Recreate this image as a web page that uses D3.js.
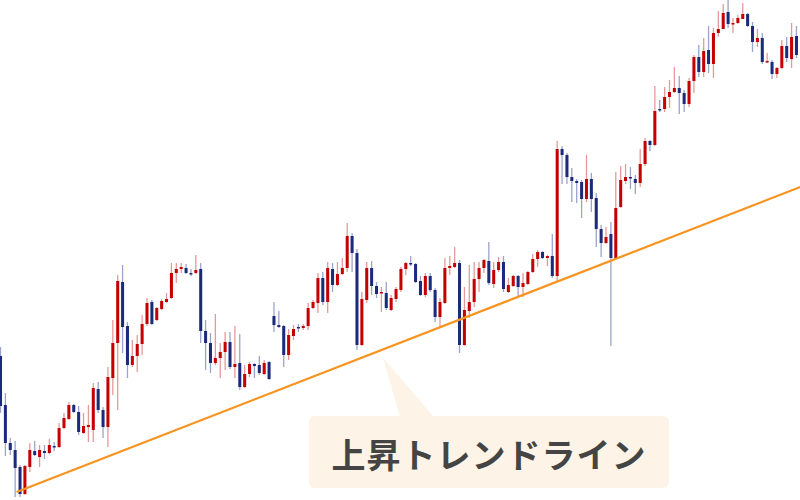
<!DOCTYPE html>
<html><head><meta charset="utf-8">
<script src="https://cdn.jsdelivr.net/npm/d3@7/dist/d3.min.js"></script>
<style>html,body{margin:0;padding:0;background:#fff;}svg{display:block;}</style>
</head><body>
<svg id="chart" width="800" height="500"></svg>
<script>
// OHLC prices (arbitrary units), one per session
const open = [144,95,57,50,33,6,33,49,43,49,47,54,53,72,81,95,88,67,73,70,111,90,73,122,157,218,174,135,144,156,176,198,180,191,198,202,227,231,232,227,227,231,169,157,137,142,148,158,133,137,113,126,136,135,126,138,184,175,174,145,164,173,172,174,192,197,222,198,231,215,226,232,264,247,155,200,232,214,207,207,190,201,210,231,237,236,219,205,224,210,183,197,232,233,237,155,189,198,221,232,239,216,230,238,208,214,224,213,216,228,241,248,242,244,224,351,345,323,319,318,301,321,302,271,257,266,242,293,319,323,321,317,336,359,355,391,391,403,408,412,407,396,419,443,428,450,436,467,471,488,476,477,481,486,474,458,462,438,438,426,432,454,441,464];
const high = [153,107,62,59,35,35,57,59,55,55,61,58,77,87,98,96,94,87,95,117,118,93,133,180,225,235,178,160,165,185,202,200,193,201,207,237,237,237,236,231,245,237,180,167,186,157,168,168,174,166,135,138,137,144,140,139,198,189,175,171,175,176,176,197,200,227,228,238,237,238,242,277,267,251,208,238,239,218,213,218,205,213,233,238,244,237,224,227,227,212,202,242,244,253,240,213,235,238,238,241,258,238,243,244,222,225,225,227,229,246,250,249,245,266,359,354,347,332,321,320,345,327,307,275,273,278,328,334,336,333,325,351,362,360,414,400,413,420,433,424,410,422,445,455,462,474,472,489,496,500,482,485,497,487,478,471,467,447,440,433,460,463,477,474];
const low = [87,44,45,3,3,5,28,44,33,41,46,49,52,71,80,87,65,66,58,58,87,62,53,105,90,147,122,133,128,145,174,175,179,190,197,201,217,227,226,224,226,157,130,127,135,122,130,131,122,110,112,123,122,125,125,120,168,172,133,140,160,168,170,170,191,187,195,187,208,214,225,228,228,150,154,197,205,202,188,190,189,198,208,225,234,217,204,203,208,178,172,196,225,232,147,154,182,193,208,227,215,212,228,208,207,213,203,203,215,227,233,241,234,222,218,316,316,298,297,282,298,288,253,243,256,154,241,292,316,311,306,313,334,349,354,388,388,392,407,386,388,393,407,423,423,427,422,463,471,472,467,476,481,473,448,453,436,437,421,422,431,438,432,442];
const close = [94,57,50,32,6,34,50,45,50,47,55,53,72,82,95,88,68,74,75,112,90,73,123,157,219,173,135,144,156,176,197,176,192,199,201,227,231,233,227,226,230,169,157,137,142,148,158,133,136,113,126,136,134,127,137,121,175,173,145,165,171,172,174,192,198,222,198,232,215,226,232,264,247,155,201,232,214,206,208,192,202,211,231,237,236,218,205,224,210,183,198,232,234,237,155,190,198,221,232,240,217,230,238,211,215,224,213,217,228,241,248,242,244,224,351,345,323,319,317,301,321,301,271,257,263,242,292,320,323,322,317,336,359,355,389,390,403,408,412,407,396,419,443,428,449,436,467,471,487,476,477,482,486,474,458,462,438,439,426,432,454,442,463,445];

// Trend line anchor points: [session index, price]
const trendIndex = [3.3, 163.8];
const trendPrice = [8, 313];

const labelText = "上昇トレンドライン";

const W = 800, H = 500;
const svg = d3.select("#chart");
svg.append("rect").attr("width", W).attr("height", H).attr("fill", "#fff");

const n = open.length;
const data = d3.range(n).map(i => ({i, o: open[i], h: high[i], l: low[i], c: close[i]}));

const x = d3.scaleBand().domain(d3.range(n)).range([-1.94, 798.9]).paddingInner(0.38).paddingOuter(0.19);
const xc = i => x(i) + x.bandwidth() / 2;
const xl = d3.scaleLinear().domain([0, n - 1]).range([xc(0), xc(n - 1)]);
const y = d3.scaleLinear().domain([0, 500]).range([500, 0]);

const RED = "#c40000", BLUE = "#1c2a7c";
const RED_W = "#e49a9a", BLUE_W = "#9ca3cc";

const g = svg.append("g");
const candles = g.selectAll("g.c").data(data).join("g").attr("class", "c");
candles.append("line")
  .attr("x1", d => xc(d.i)).attr("x2", d => xc(d.i))
  .attr("y1", d => y(d.h)).attr("y2", d => y(d.l))
  .attr("stroke", d => d.c >= d.o ? RED_W : BLUE_W)
  .attr("stroke-width", 1.3);
candles.append("rect")
  .attr("x", d => x(d.i)).attr("width", x.bandwidth())
  .attr("y", d => y(Math.max(d.o, d.c)))
  .attr("height", d => Math.max(1.5, Math.abs(y(d.o) - y(d.c))))
  .attr("fill", d => d.c >= d.o ? RED : BLUE);

// trend line
svg.append("line")
  .attr("x1", xl(trendIndex[0])).attr("y1", y(trendPrice[0]))
  .attr("x2", xl(trendIndex[1])).attr("y2", y(trendPrice[1]))
  .attr("stroke", "#f7931e").attr("stroke-width", 2.2);

// callout
const cx0 = 309, cy0 = 416, cw = 360, ch = 72;
const call = svg.append("g");
call.append("path")
  .attr("d", `M400,${cy0+1} L383,358 L434,${cy0+1} Z`)
  .attr("fill", "#fdf3e6");
call.append("rect").attr("x", cx0).attr("y", cy0).attr("width", cw).attr("height", ch)
  .attr("rx", 6).attr("fill", "#fdf3e6");
call.append("text")
  .attr("x", cx0 + cw / 2 + 0).attr("y", cy0 + ch / 2 + 1)
  .attr("text-anchor", "middle").attr("dominant-baseline", "central")
  .attr("font-family", "'Noto Sans CJK JP', 'Noto Sans', sans-serif")
  .attr("font-weight", "bold").attr("font-size", 34)
  .attr("letter-spacing", 1)
  .attr("fill", "#444")
  .text(labelText);
</script>
</body></html>
